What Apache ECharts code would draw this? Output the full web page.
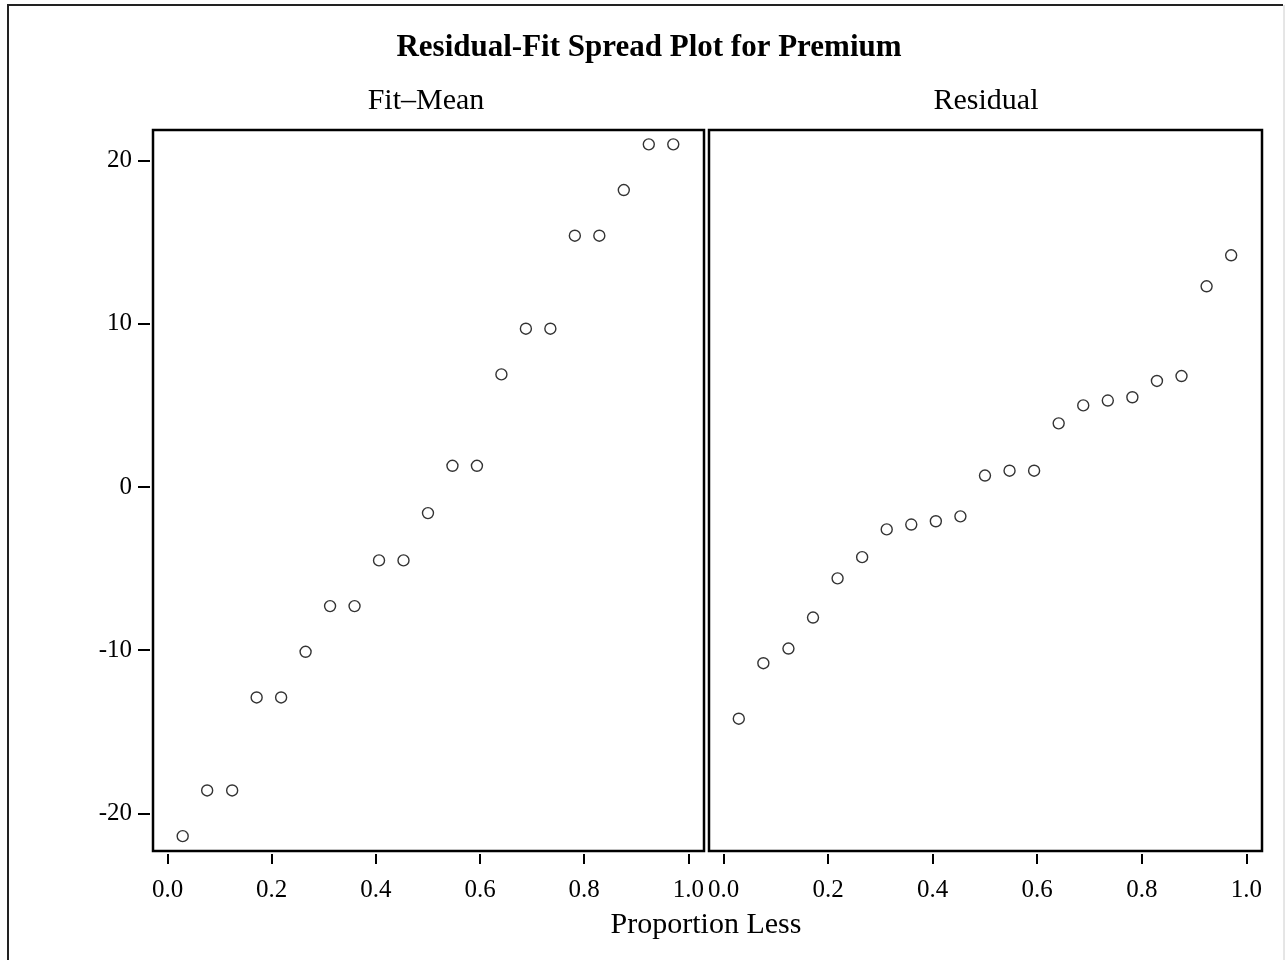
<!DOCTYPE html>
<html>
<head>
<meta charset="utf-8">
<title>Residual-Fit Spread Plot for Premium</title>
<script src="https://cdn.jsdelivr.net/npm/echarts@6/dist/echarts.min.js"></script>
<style>
  html, body { margin: 0; padding: 0; background: #fff; }
  #chart { width: 1285px; height: 960px; }
</style>
</head>
<body>
<div id="chart"></div>
<script>
// proportion less (plotting positions) shared by both panels
const proportion = [0.029, 0.076, 0.124, 0.171, 0.218, 0.265, 0.312, 0.359, 0.406, 0.453, 0.5,
  0.547, 0.594, 0.641, 0.688, 0.735, 0.782, 0.829, 0.876, 0.924, 0.971]
// fitted value minus mean, sorted
const fitMean = [-21.4, -18.6, -18.6, -12.9, -12.9, -10.1, -7.3, -7.3, -4.5, -4.5, -1.6,
  1.3, 1.3, 6.9, 9.7, 9.7, 15.4, 15.4, 18.2, 21.0, 21.0]
// residuals, sorted
const residual = [-14.2, -10.8, -9.9, -8.0, -5.6, -4.3, -2.6, -2.3, -2.1, -1.8, 0.7,
  1.0, 1.0, 3.9, 5.0, 5.3, 5.5, 6.5, 6.8, 12.3, 14.2]
const xTicks = [0, 0.2, 0.4, 0.6, 0.8, 1.0]
const yTicks = [-20, -10, 0, 10, 20]

const serif = '"Liberation Serif", "Times New Roman", "DejaVu Serif", serif'
const ink = '#000'

const chart = echarts.init(document.getElementById('chart'))

function xAxisFor(gridIndex) {
  return {
    type: 'value',
    gridIndex: gridIndex,
    min: -0.028,
    max: 1.03,
    offset: 3,
    axisLine: { show: false, onZero: false },
    splitLine: { show: false },
    axisTick: {
      show: true,
      length: 10,
      customValues: xTicks,
      lineStyle: { color: ink, width: 2 }
    },
    axisLabel: {
      show: true,
      margin: 24,
      customValues: xTicks,
      color: ink,
      fontFamily: serif,
      fontSize: 25,
      formatter: v => v.toFixed(1)
    }
  }
}

function yAxisFor(gridIndex, showLabels) {
  return {
    type: 'value',
    gridIndex: gridIndex,
    min: -22.31,
    max: 21.88,
    offset: 3,
    axisLine: { show: false, onZero: false },
    splitLine: { show: false },
    axisTick: {
      show: showLabels,
      length: 12,
      customValues: yTicks,
      lineStyle: { color: ink, width: 2 }
    },
    axisLabel: {
      show: showLabels,
      margin: 18,
      customValues: yTicks,
      color: ink,
      fontFamily: serif,
      fontSize: 25
    }
  }
}

const marker = {
  symbol: 'circle',
  symbolSize: 11,
  itemStyle: { color: '#fff', borderColor: ink, borderWidth: 1.4 }
}

chart.setOption({
  backgroundColor: '#fff',
  animation: false,
  grid: [
    { left: 153, top: 130, width: 551, height: 721, show: true, borderColor: ink, borderWidth: 2.5, backgroundColor: 'transparent' },
    { left: 709, top: 130, width: 553, height: 721, show: true, borderColor: ink, borderWidth: 2.5, backgroundColor: 'transparent' }
  ],
  xAxis: [xAxisFor(0), xAxisFor(1)],
  yAxis: [yAxisFor(0, true), yAxisFor(1, false)],
  series: [
    Object.assign({
      name: 'Fit–Mean',
      type: 'scatter',
      xAxisIndex: 0,
      yAxisIndex: 0,
      data: proportion.map((p, i) => [p, fitMean[i]])
    }, marker),
    Object.assign({
      name: 'Residual',
      type: 'scatter',
      xAxisIndex: 1,
      yAxisIndex: 1,
      data: proportion.map((p, i) => [p, residual[i]])
    }, marker)
  ],
  graphic: [
    {
      type: 'polyline',
      silent: true,
      shape: { points: [[8, 965], [8, 5], [1283, 5]] },
      style: { stroke: '#222', lineWidth: 2, fill: null }
    },
    {
      type: 'line',
      silent: true,
      shape: { x1: 1284, y1: 5, x2: 1284, y2: 965 },
      style: { stroke: '#ccc', lineWidth: 1 }
    },
    {
      type: 'text',
      silent: true,
      style: {
        x: 649, y: 48, text: 'Residual-Fit Spread Plot for Premium',
        fill: ink, font: 'bold 31px ' + serif, textAlign: 'center', textVerticalAlign: 'middle'
      }
    },
    {
      type: 'text',
      silent: true,
      style: {
        x: 426, y: 101, text: 'Fit–Mean',
        fill: ink, font: '30px ' + serif, textAlign: 'center', textVerticalAlign: 'middle'
      }
    },
    {
      type: 'text',
      silent: true,
      style: {
        x: 986, y: 101, text: 'Residual',
        fill: ink, font: '30px ' + serif, textAlign: 'center', textVerticalAlign: 'middle'
      }
    },
    {
      type: 'text',
      silent: true,
      style: {
        x: 706, y: 925, text: 'Proportion Less',
        fill: ink, font: '30px ' + serif, textAlign: 'center', textVerticalAlign: 'middle'
      }
    }
  ]
})
</script>
</body>
</html>
